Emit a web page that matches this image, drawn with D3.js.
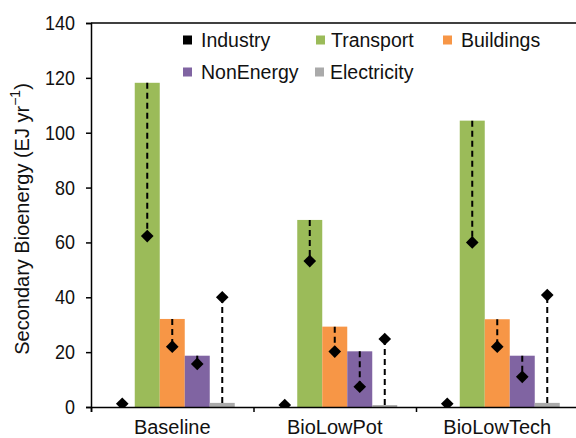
<!DOCTYPE html>
<html>
<head>
<meta charset="utf-8">
<script src="https://cdn.jsdelivr.net/npm/d3@7"></script>
<style>
  body { margin: 0; background: #fff; }
  text { font-family: "Liberation Sans", Arial, sans-serif; fill: #111; }
</style>
</head>
<body>
<svg id="chart" width="576" height="438"></svg>
<script>
'use strict';
const categories = ['Baseline', 'BioLowPot', 'BioLowTech'];
const sectors = ['Industry', 'Transport', 'Buildings', 'NonEnergy', 'Electricity'];
const colors = ['#000000', '#9bbb59', '#f79646', '#8064a2', '#aaaaaa'];

// bar heights per sector, by scenario
const industryBar = [0, 0, 0];
const transportBar = [118.2, 68.2, 104.4];
const buildingsBar = [32.1, 29.3, 32.0];
const nonEnergyBar = [18.7, 20.3, 18.7];
const electricityBar = [1.5, 0.7, 1.5];

// diamond markers per sector, by scenario
const industryPt = [1.2, 0.7, 1.2];
const transportPt = [62.3, 53.2, 60.0];
const buildingsPt = [22.0, 20.2, 22.0];
const nonEnergyPt = [15.7, 7.4, 11.0];
const electricityPt = [40.0, 24.8, 40.8];

const yTicks = [0, 20, 40, 60, 80, 100, 120, 140];

const barRows = [industryBar, transportBar, buildingsBar, nonEnergyBar, electricityBar];
const ptRows = [industryPt, transportPt, buildingsPt, nonEnergyPt, electricityPt];

const LEFT = 91, RIGHT = 578.5, TOP = 23, BOTTOM = 407;

let svg = d3.select('#chart');

let x0 = d3.scaleBand().domain(categories).range([LEFT, RIGHT]).padding(0);
let x1 = d3.scaleBand().domain(sectors).range([0, x0.bandwidth()]).paddingInner(0).paddingOuter(0.75);
let y = d3.scaleLinear().domain([0, 140]).range([BOTTOM, TOP]);

// flatten into records
let data = [];
categories.forEach(function(c, i) {
  sectors.forEach(function(s, j) {
    data.push({ cat: c, sector: s, color: colors[j], bar: barRows[j][i], pt: ptRows[j][i] });
  });
});

svg.append('clipPath').attr('id', 'plotClip')
  .append('rect').attr('x', LEFT).attr('y', TOP).attr('width', RIGHT - LEFT).attr('height', BOTTOM - TOP);

let plot = svg.append('g').attr('clip-path', 'url(#plotClip)');

function cx(d) { return x0(d.cat) + x1(d.sector) + x1.bandwidth() / 2 }

// bars
plot.selectAll('rect.bar')
  .data(data)
  .enter()
  .append('rect')
    .attr('class', 'bar')
    .attr('x', function(d) { return x0(d.cat) + x1(d.sector) })
    .attr('width', x1.bandwidth())
    .attr('y', function(d) { return y(d.bar) })
    .attr('height', function(d) { return y(0) - y(d.bar) })
    .attr('fill', function(d) { return d.color });

// dashed range lines between bar top and marker
plot.selectAll('line.range')
  .data(data)
  .enter()
  .append('line')
    .attr('class', 'range')
    .attr('x1', cx)
    .attr('x2', cx)
    .attr('y1', function(d) { return y(d.bar) })
    .attr('y2', function(d) { return y(d.pt) })
    .attr('stroke', '#000')
    .attr('stroke-width', 2)
    .attr('stroke-dasharray', '6,4');

// diamonds
let diamond = d3.symbol().type(d3.symbolSquare).size(80);
plot.selectAll('path.pt')
  .data(data)
  .enter()
  .append('path')
    .attr('class', 'pt')
    .attr('d', diamond)
    .attr('transform', function(d) {
      return 'translate(' + cx(d) + ',' + y(d.pt) + ') rotate(45)';
    })
    .attr('fill', '#000');

// top border
svg.append('line')
  .attr('x1', LEFT).attr('x2', 576)
  .attr('y1', TOP).attr('y2', TOP)
  .attr('stroke', '#000').attr('stroke-width', 1.5);

// y axis
let yAxis = svg.append('g')
  .attr('transform', 'translate(' + LEFT + ',0)')
  .call(d3.axisLeft(y).tickValues(yTicks).tickSize(5).tickPadding(11));
yAxis.select('.domain').attr('stroke', '#000').attr('stroke-width', 1.5);
yAxis.selectAll('.tick line').attr('stroke', '#000').attr('stroke-width', 1.5);
yAxis.selectAll('.tick text')
  .attr('font-size', 20.5)
  .attr('fill', '#111')
  .attr('textLength', function(d) { return String(d).length * 10 })
  .attr('lengthAdjust', 'spacingAndGlyphs');

// x axis: ticks at category boundaries, labels centred
let xb = d3.scaleLinear().domain([0, categories.length]).range([LEFT, RIGHT]);
let xAxis = svg.append('g')
  .attr('transform', 'translate(0,' + BOTTOM + ')')
  .call(d3.axisBottom(xb).tickValues(d3.range(categories.length + 1)).tickSize(5).tickFormat(''));
xAxis.select('.domain').attr('stroke', '#000').attr('stroke-width', 1.5);
xAxis.selectAll('.tick line').attr('stroke', '#000').attr('stroke-width', 1.5);

svg.selectAll('text.xlab')
  .data(categories)
  .enter()
  .append('text')
    .attr('class', 'xlab')
    .attr('x', function(d) { return x0(d) + x0.bandwidth() / 2 })
    .attr('y', 434)
    .attr('text-anchor', 'middle')
    .attr('font-size', 20)
    .text(function(d) { return d });

// y title
let yTitle = svg.append('text')
  .attr('transform', 'translate(22,' + 219 + ') rotate(-90)')
  .attr('text-anchor', 'middle')
  .attr('dominant-baseline', 'central')
  .attr('font-size', 20);
yTitle.append('tspan').text('Secondary Bioenergy (EJ yr');
yTitle.append('tspan').attr('dy', -7).attr('font-size', 14).text('−1');
yTitle.append('tspan').attr('dy', 7).text(')');

// legend
const legendPos = [[183, 40], [316, 40], [443, 40], [183, 72], [315, 72]];
let legend = svg.selectAll('g.legend')
  .data(sectors)
  .enter()
  .append('g')
    .attr('class', 'legend')
    .attr('transform', function(d, i) { return 'translate(' + legendPos[i][0] + ',' + legendPos[i][1] + ')' });
legend.append('rect')
  .attr('x', 0).attr('y', -4.5)
  .attr('width', 9).attr('height', 9)
  .attr('fill', function(d, i) { return colors[i] });
legend.append('text')
  .attr('x', function(d, i) { return i === 4 || i === 1 ? 15 : 18 })
  .attr('y', 7)
  .attr('font-size', 19.5)
  .text(function(d) { return d });
</script>
</body>
</html>
